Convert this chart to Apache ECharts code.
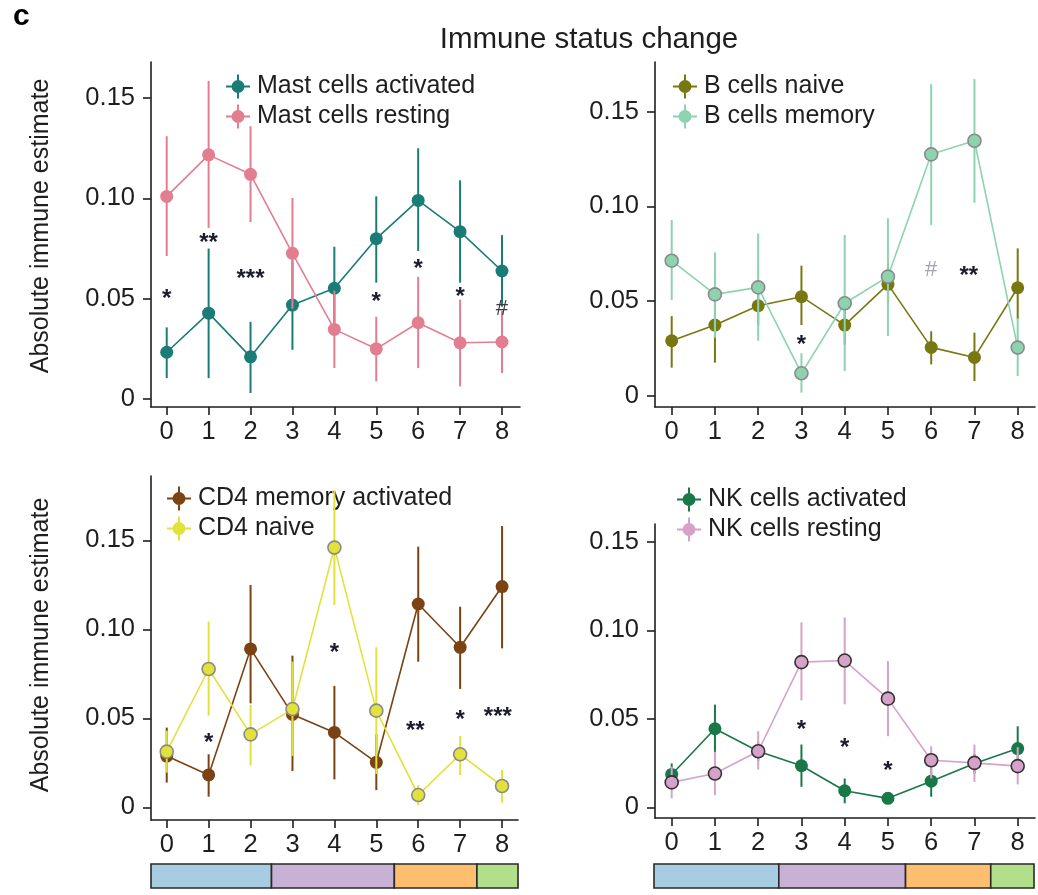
<!DOCTYPE html>
<html>
<head>
<meta charset="utf-8">
<script src="https://cdn.jsdelivr.net/npm/echarts@6.0.0/dist/echarts.min.js"></script>
<style>
  html, body { margin: 0; padding: 0; background: #fff; }
  #chart { width: 1038px; height: 895px; }
</style>
</head>
<body>
<div id="chart"></div>
<script>
// Time points along the x axis and the tick labels on both axes
const timePoints = [0, 1, 2, 3, 4, 5, 6, 7, 8];
const xTickLabels = ['0', '1', '2', '3', '4', '5', '6', '7', '8'];
const yTickValues = [0, 0.05, 0.10, 0.15];
const yTickLabels = ['0', '0.05', '0.10', '0.15'];

// Mast cells (mean with lower / upper bounds)
const mastActMean = [0.0233, 0.0428, 0.0210, 0.0468, 0.0552, 0.0799, 0.0990, 0.0834, 0.0638];
const mastActLow  = [0.0104, 0.0104, 0.0030, 0.0245, 0.0350, 0.0580, 0.0738, 0.0580, 0.0460];
const mastActHigh = [0.0357, 0.0750, 0.0385, 0.0690, 0.0759, 0.1010, 0.1250, 0.1090, 0.0817];
const mastRestMean = [0.1010, 0.1217, 0.1120, 0.0726, 0.0347, 0.0250, 0.0380, 0.0280, 0.0284];
const mastRestLow  = [0.0713, 0.0853, 0.0882, 0.0450, 0.0154, 0.0088, 0.0154, 0.0063, 0.0129];
const mastRestHigh = [0.1310, 0.1586, 0.1360, 0.1002, 0.0540, 0.0410, 0.0609, 0.0495, 0.0440];

// B cells
const bNaiveMean = [0.0290, 0.0373, 0.0475, 0.0523, 0.0373, 0.0588, 0.0255, 0.0202, 0.0570];
const bNaiveLow  = [0.0148, 0.0174, 0.0370, 0.0373, 0.0270, 0.0480, 0.0165, 0.0077, 0.0403];
const bNaiveHigh = [0.0420, 0.0570, 0.0580, 0.0687, 0.0480, 0.0700, 0.0340, 0.0333, 0.0778];
const bMemMean = [0.0713, 0.0535, 0.0572, 0.0118, 0.0488, 0.0629, 0.1275, 0.1347, 0.0254];
const bMemLow  = [0.0505, 0.0306, 0.0290, 0.0016, 0.0130, 0.0315, 0.0901, 0.1019, 0.0104];
const bMemHigh = [0.0928, 0.0757, 0.0857, 0.0224, 0.0849, 0.0937, 0.1646, 0.1673, 0.0410];

// CD4 T cells
const cd4MemMean = [0.0288, 0.0182, 0.0890, 0.0522, 0.0421, 0.0253, 0.1142, 0.0899, 0.1240];
const cd4MemLow  = [0.0139, 0.0060, 0.0584, 0.0204, 0.0157, 0.0097, 0.0818, 0.0665, 0.0893];
const cd4MemHigh = [0.0448, 0.0298, 0.1249, 0.0852, 0.0682, 0.0410, 0.1464, 0.1127, 0.1580];
const cd4NaiveMean = [0.0313, 0.0777, 0.0410, 0.0552, 0.1459, 0.0543, 0.0069, 0.0298, 0.0120];
const cd4NaiveLow  = [0.0195, 0.0515, 0.0234, 0.0288, 0.1137, 0.0187, 0.0013, 0.0182, 0.0026];
const cd4NaiveHigh = [0.0430, 0.1043, 0.0575, 0.0818, 0.1780, 0.0899, 0.0125, 0.0401, 0.0210];

// NK cells
const nkActMean = [0.0186, 0.0444, 0.0317, 0.0235, 0.0094, 0.0051, 0.0148, 0.0248, 0.0332];
const nkActLow  = [0.0135, 0.0313, 0.0260, 0.0116, 0.0023, 0.0030, 0.0060, 0.0190, 0.0229];
const nkActHigh = [0.0248, 0.0580, 0.0370, 0.0355, 0.0163, 0.0070, 0.0229, 0.0300, 0.0458];
const nkRestMean = [0.0141, 0.0191, 0.0317, 0.0820, 0.0829, 0.0614, 0.0266, 0.0251, 0.0233];
const nkRestLow  = [0.0051, 0.0069, 0.0214, 0.0604, 0.0582, 0.0402, 0.0163, 0.0144, 0.0130];
const nkRestHigh = [0.0230, 0.0313, 0.0430, 0.1045, 0.1073, 0.0826, 0.0345, 0.0355, 0.0340];

// Significance marks (x position, y position, mark)
const mastSigX = [0, 1, 2, 5, 6, 7, 8];
const mastSigY = [0.0523, 0.0800, 0.0620, 0.0506, 0.0670, 0.0530, 0.0448];
const mastSigText = ['*', '**', '***', '*', '*', '*', '#'];
const bSigX = [3, 6, 6.87];
const bSigY = [0.0294, 0.0664, 0.0655];
const bSigText = ['*', '#', '**'];
const cd4SigX = [1, 4, 5.93, 7, 7.9];
const cd4SigY = [0.0388, 0.0893, 0.0453, 0.0519, 0.0534];
const cd4SigText = ['*', '*', '**', '*', '***'];
const nkSigX = [3, 4, 5];
const nkSigY = [0.0463, 0.0360, 0.0229];
const nkSigText = ['*', '*', '*'];

// Stage boundaries along the time axis for the colour strip
const stageBreaks = [2.5, 5.43, 7.4];
const stageColors = ['#a6cde1', '#c9b1d5', '#fdbf6f', '#b2df8a'];

const FONT = "'Liberation Sans', Arial, Helvetica, sans-serif";
const INK = '#1e1e1e';
// legend key: horizontal line, vertical range bar and a dot
const LEGEND_ICON = 'path://M0,11H24V13H0Z M11,0H13V24H11Z M5.5,12A6.5,6.5 0 1,1 18.5,12A6.5,6.5 0 1,1 5.5,12Z';

function bundle(name, mean, low, high, color, border) {
  return { name, mean, low, high, color, border };
}

const panels = [
  {
    grid: { left: 151, top: 62, width: 369, height: 345 },
    xRange: [-0.375, 8.43], yRange: [-0.004, 0.168],
    legendPos: { left: 226, top: 74 },
    series: [
      bundle('Mast cells activated', mastActMean, mastActLow, mastActHigh, '#1b7b77', null),
      bundle('Mast cells resting', mastRestMean, mastRestLow, mastRestHigh, '#e27e8f', null)
    ],
    sig: { x: mastSigX, y: mastSigY, text: mastSigText, hashColor: '#3a3a44' }
  },
  {
    grid: { left: 655, top: 62, width: 380, height: 345 },
    xRange: [-0.386, 8.40], yRange: [-0.006, 0.1763],
    legendPos: { left: 673, top: 74 },
    series: [
      bundle('B cells naive', bNaiveMean, bNaiveLow, bNaiveHigh, '#787812', null),
      bundle('B cells memory', bMemMean, bMemLow, bMemHigh, '#8dd3b0', '#8a8a8a')
    ],
    sig: { x: bSigX, y: bSigY, text: bSigText, hashColor: '#a3a3b3' }
  },
  {
    grid: { left: 151, top: 476, width: 367, height: 344 },
    xRange: [-0.375, 8.38], yRange: [-0.0071, 0.1861],
    legendPos: { left: 167, top: 486 },
    series: [
      bundle('CD4 memory activated', cd4MemMean, cd4MemLow, cd4MemHigh, '#7b4214', null),
      bundle('CD4 naive', cd4NaiveMean, cd4NaiveLow, cd4NaiveHigh, '#e2e23a', '#8a8a8a')
    ],
    sig: { x: cd4SigX, y: cd4SigY, text: cd4SigText, hashColor: '#3a3a44' }
  },
  {
    grid: { left: 655, top: 524, width: 380, height: 294 },
    xRange: [-0.386, 8.40], yRange: [-0.006, 0.160],
    legendPos: { left: 677, top: 487 },
    series: [
      bundle('NK cells activated', nkActMean, nkActLow, nkActHigh, '#197848', null),
      bundle('NK cells resting', nkRestMean, nkRestLow, nkRestHigh, '#d6a2ca', '#333333')
    ],
    sig: { x: nkSigX, y: nkSigY, text: nkSigText, hashColor: '#3a3a44' }
  }
];

// Colour strips under the two bottom panels share their x scale
const strips = [
  { grid: { left: 151, top: 864, width: 367, height: 24 }, xRange: panels[2].xRange },
  { grid: { left: 654, top: 864, width: 380, height: 24 }, xRange: panels[3].xRange }
];

const option = {
  animation: false,
  backgroundColor: '#ffffff',
  textStyle: { fontFamily: FONT },
  grid: [], xAxis: [], yAxis: [], series: [], legend: [],
  graphic: [
    { type: 'text', x: 13, y: 17, style: { text: 'c', font: 'bold 30px ' + FONT, fill: '#000', align: 'left', verticalAlign: 'middle' } },
    { type: 'text', x: 589, y: 40, style: { text: 'Immune status change', font: '29.5px ' + FONT, fill: INK, align: 'center', verticalAlign: 'middle' } },
    { type: 'text', x: 41, y: 226, rotation: Math.PI / 2, style: { text: 'Absolute immune estimate', font: '25px ' + FONT, fill: INK, align: 'center', verticalAlign: 'middle' } },
    { type: 'text', x: 41, y: 645, rotation: Math.PI / 2, style: { text: 'Absolute immune estimate', font: '25px ' + FONT, fill: INK, align: 'center', verticalAlign: 'middle' } }
  ]
};

const axisLine = { show: true, onZero: false, lineStyle: { color: INK, width: 1.6 } };
const axisTick = { show: true, length: 8, lineStyle: { color: INK, width: 1.6 } };

panels.forEach((p, gi) => {
  option.grid.push(Object.assign({ containLabel: false }, p.grid));
  option.xAxis.push({
    type: 'value', gridIndex: gi, min: p.xRange[0], max: p.xRange[1],
    axisLine, axisTick: Object.assign({ customValues: timePoints }, axisTick),
    axisLabel: {
      customValues: timePoints, margin: 12, fontSize: 25.5, color: INK, fontFamily: FONT,
      formatter: v => xTickLabels[timePoints.indexOf(Math.round(v))]
    },
    splitLine: { show: false }
  });
  option.yAxis.push({
    type: 'value', gridIndex: gi, min: p.yRange[0], max: p.yRange[1],
    axisLine, axisTick: Object.assign({ customValues: yTickValues }, axisTick),
    axisLabel: {
      customValues: yTickValues, margin: 16, fontSize: 25.5, color: INK, fontFamily: FONT,
      formatter: v => {
        const i = yTickValues.findIndex(t => Math.abs(t - v) < 1e-9);
        return i >= 0 ? yTickLabels[i] : '';
      }
    },
    splitLine: { show: false }
  });

  p.series.forEach((s, si) => {
    const zBase = 2 + si * 2;
    // vertical range bars
    option.series.push({
      type: 'custom', xAxisIndex: gi, yAxisIndex: gi, z: zBase, silent: true,
      encode: { x: 0, y: [1, 2] },
      data: timePoints.map((t, i) => [t, s.low[i], s.high[i]]),
      renderItem: (params, api) => {
        const x = api.value(0);
        const a = api.coord([x, api.value(1)]);
        const b = api.coord([x, api.value(2)]);
        return { type: 'line', shape: { x1: a[0], y1: a[1], x2: b[0], y2: b[1] }, style: { stroke: s.color, lineWidth: 2 } };
      }
    });
    // connecting line with points
    option.series.push({
      type: 'line', name: s.name, xAxisIndex: gi, yAxisIndex: gi, z: zBase + 1,
      data: timePoints.map((t, i) => [t, s.mean[i]]),
      symbol: 'circle', symbolSize: 13, showSymbol: true,
      lineStyle: { color: s.color, width: 1.6 },
      itemStyle: s.border ? { color: s.color, borderColor: s.border, borderWidth: 1.6 } : { color: s.color, borderWidth: 0 },
      emphasis: { disabled: true }
    });
  });

  // significance marks
  const sig = p.sig;
  option.series.push({
    type: 'custom', xAxisIndex: gi, yAxisIndex: gi, z: 10, silent: true,
    encode: { x: 0, y: 1 },
    data: sig.x.map((x, i) => [x, sig.y[i]]),
    renderItem: (params, api) => {
      const c = api.coord([api.value(0), api.value(1)]);
      const t = sig.text[params.dataIndex];
      const isHash = t === '#';
      return {
        type: 'text', x: c[0], y: c[1] + (isHash ? 0 : 5),
        style: {
          text: t, font: (isHash ? '22px ' : 'bold 24px ') + FONT,
          fill: isHash ? sig.hashColor : '#1b1b2e', align: 'center', verticalAlign: 'middle'
        }
      };
    }
  });

  option.legend.push({
    orient: 'vertical', left: p.legendPos.left, top: p.legendPos.top,
    itemWidth: 24, itemHeight: 24, itemGap: 5, padding: 0,
    icon: LEGEND_ICON, selectedMode: false,
    data: p.series.map(s => ({ name: s.name, itemStyle: { color: s.color, borderWidth: 0 } })),
    textStyle: { fontSize: 25, color: INK, fontFamily: FONT, padding: [0, 0, 0, 2] }
  });
});

// colour strips for the stages
strips.forEach((st, k) => {
  const gi = panels.length + k;
  option.grid.push(st.grid);
  option.xAxis.push({ type: 'value', gridIndex: gi, min: st.xRange[0], max: st.xRange[1], show: false });
  option.yAxis.push({ type: 'value', gridIndex: gi, min: 0, max: 1, show: false });
  const edges = [st.xRange[0]].concat(stageBreaks, [st.xRange[1]]);
  option.series.push({
    type: 'custom', xAxisIndex: gi, yAxisIndex: gi, silent: true,
    encode: { x: [0, 1] },
    data: stageColors.map((c, i) => [edges[i], edges[i + 1]]),
    renderItem: (params, api) => {
      const a = api.coord([api.value(0), 0]);
      const b = api.coord([api.value(1), 1]);
      return {
        type: 'rect',
        shape: { x: a[0], y: b[1], width: b[0] - a[0], height: a[1] - b[1] },
        style: { fill: stageColors[params.dataIndex], stroke: '#2a2a2a', lineWidth: 1.6 }
      };
    }
  });
});

const chart = echarts.init(document.getElementById('chart'), null, { renderer: 'canvas' });
chart.setOption(option);
</script>
</body>
</html>
